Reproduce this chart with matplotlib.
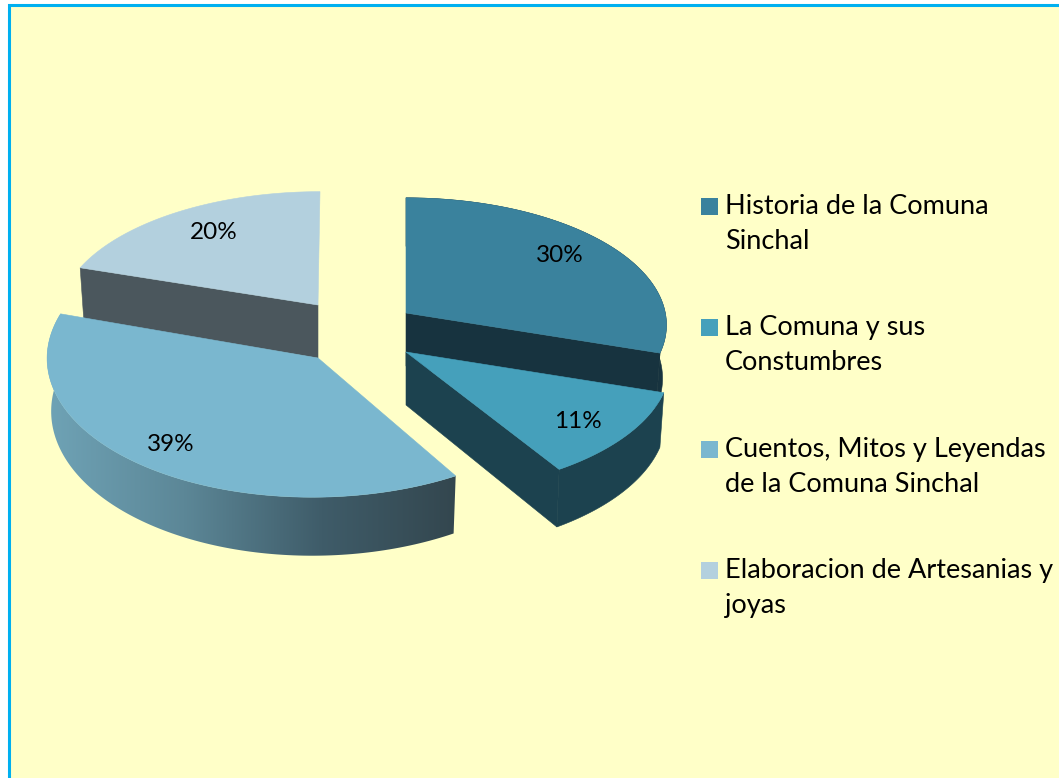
import numpy as np
import matplotlib
matplotlib.use("Agg")
import matplotlib.pyplot as plt
from matplotlib.patches import Polygon, Rectangle
from matplotlib.colors import LinearSegmentedColormap

categories = ["Historia de la Comuna\nSinchal",
              "La Comuna y sus\nConstumbres",
              "Cuentos, Mitos y Leyendas\nde la Comuna Sinchal",
              "Elaboracion de Artesanias y\njoyas"]
values = [30, 11, 39, 20]

top_colors = ["#3A829D", "#45A0BB", "#7AB7CF", "#B3D0DE"]
front_colors = ["#17333F", "#1C424F", "#1C424F", "#4B575D"]
outer_colors = ["#17333F", "#1C424F", None, "#4B575D"]

# pie geometry, in pixels
apex = [(406, 313), (406, 352), (318, 358), (318, 305)]
widen = [1.005, 1.02, 1.05, 1.0]
shear = [0, 0, 6, 2]
ry = [126, 128, 142, 124]
persp = [0.094, 0.094, -0.02, 0.094]
label_r = [0.76, 0.80, 0.76, 0.74]
label_dx = [1, -2, -19, 1]
label_dy = [-4, 3, 1, -3]
RX, K, DEPTH = 258, 0.094, 53

plt.rcParams["font.family"] = ["Lato", "DejaVu Sans"]

fig = plt.figure(figsize=(10.59, 7.78), dpi=100, facecolor="white")
ax = fig.add_axes([0, 0, 1, 1])
ax.set_xlim(0, 1059)
ax.set_ylim(778, 0)
ax.axis("off")

ax.add_patch(Rectangle((9, 5), 1200, 1000, facecolor="#FFFFC8", edgecolor="#00B0F0", lw=2.2, zorder=0))


def project(i, theta, r=1.0, depth=0.0):
    u, v = np.sin(theta) * r, np.cos(theta) * r
    s = 1 / (1 + persp[i] * v)
    x = RX * widen[i] * u * s + shear[i] * v
    y = -ry[i] * v * s
    if depth:
        x = x * 0.985
        y = y + depth / (1 + K * v)
    return apex[i][0] + x, apex[i][1] + y


def side_band(i, th):
    xa, ya = project(i, th)
    xb, yb = project(i, th, depth=DEPTH)
    return np.column_stack([np.r_[xa, xb[::-1]], np.r_[ya, yb[::-1]]])


def draw_slice(i, a0, a1, z):
    th = np.linspace(a0, a1, 120)
    x, y = project(i, th)
    # flat cut face, only on the slices where it looks toward the viewer
    if i in (0, 1, 3):
        end = a0 if i == 3 else a1
        xe, ye = project(i, np.array([end]))
        xb, yb = project(i, np.array([end]), depth=DEPTH)
        ax0, ay0 = apex[i]
        ax.add_patch(Polygon([(ax0, ay0), (xe[0], ye[0]), (xb[0], yb[0]), (ax0, ay0 + DEPTH)],
                             fc=front_colors[i], ec=front_colors[i], lw=0.4, zorder=z))
    # outer wall
    if i == 2:
        band = Polygon(side_band(i, th), fc="none", ec="none", zorder=z)
        ax.add_patch(band)
        cmap = LinearSegmentedColormap.from_list(
            "side", ["#6FA3B6", "#5C8797", "#3F5C69", "#33464E"])
        im = ax.imshow(np.linspace(0, 1, 256).reshape(1, -1), cmap=cmap, aspect="auto",
                       extent=(46, 460, 600, 300), zorder=z)
        im.set_clip_path(band)
        ax.set_xlim(0, 1059)
        ax.set_ylim(778, 0)
    elif i != 3:
        ax.add_patch(Polygon(side_band(i, th), fc=outer_colors[i], ec=outer_colors[i],
                             lw=0.4, zorder=z))
    ax.add_patch(Polygon(np.column_stack([np.r_[apex[i][0], x], np.r_[apex[i][1], y]]),
                         fc=top_colors[i], ec=top_colors[i], lw=0.4, zorder=z + 0.5))


edges = np.cumsum([0] + values) / sum(values) * 2 * np.pi
for z, i in enumerate([3, 2, 0, 1]):
    draw_slice(i, edges[i], edges[i + 1], z + 1)

for i, val in enumerate(values):
    mid = np.array([(edges[i] + edges[i + 1]) / 2])
    lx, ly = project(i, mid, r=label_r[i])
    ax.text(lx[0] + label_dx[i], ly[0] + 1 + label_dy[i], f"{val}%", ha="center", va="center",
            fontsize=17.5, color="black", zorder=10)

legend_y = [206, 327, 449, 570]
for i, name in enumerate(categories):
    ax.add_patch(Rectangle((701, legend_y[i] - 8), 17, 17, fc=top_colors[i], ec="none", zorder=10))
    ax.text(725, legend_y[i] + 18, name, ha="left", va="center", fontsize=19.5, linespacing=1.5,
            color="black", zorder=10)

fig.savefig("out.png", dpi=100, facecolor="white")
